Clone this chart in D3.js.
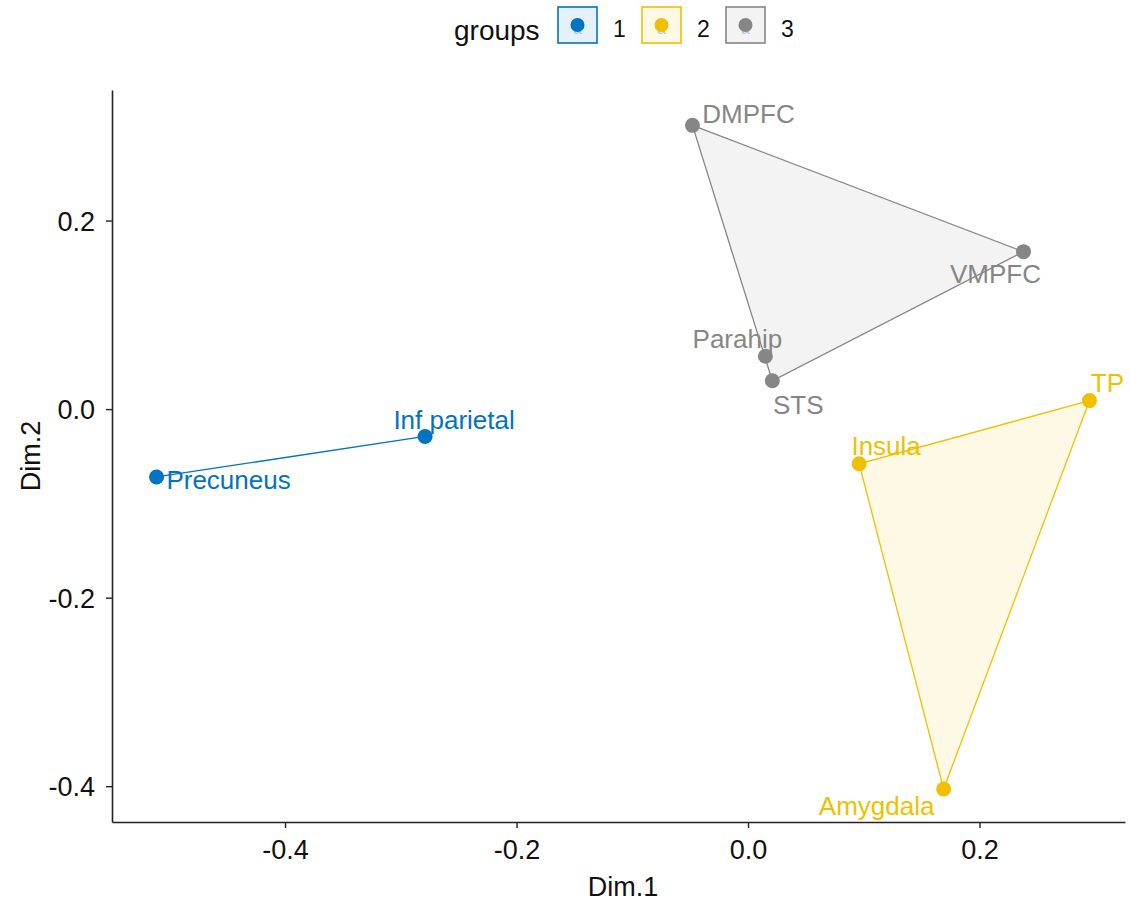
<!DOCTYPE html>
<html>
<head>
<meta charset="utf-8">
<script src="https://cdn.jsdelivr.net/npm/d3@7"></script>
<style>
  html, body { margin: 0; padding: 0; background: #fff; }
  svg { display: block; font-family: "Liberation Sans", Arial, sans-serif; }
</style>
</head>
<body>
<svg id="chart" width="1130" height="905"></svg>
<script>
// Regions on the first two MDS dimensions, grouped into three clusters
const regions = ["Precuneus", "Inf parietal", "DMPFC", "VMPFC", "Parahip", "STS", "TP", "Insula", "Amygdala"];
const dim1    = [-0.511, -0.279, -0.048, 0.238, 0.015, 0.021, 0.295, 0.096, 0.169];
const dim2    = [-0.072, -0.029, 0.301, 0.167, 0.056, 0.030, 0.009, -0.058, -0.403];
const groups  = [1, 1, 3, 3, 3, 3, 2, 2, 2];

const groupIds    = [1, 2, 3];
const groupColors = ["#0073C2", "#EFC000", "#868686"];

const xTicks = [-0.4, -0.2, 0.0, 0.2];
const yTicks = [-0.4, -0.2, 0.0, 0.2];

// Label placement (pixel offsets of each label centre from its point)
const labelOffsets = {
  "Precuneus":    [72, 3],
  "Inf parietal": [29, -17],
  "DMPFC":        [56, -12],
  "VMPFC":        [-28, 22],
  "Parahip":      [-28, -18],
  "STS":          [26, 24],
  "TP":           [18, -18],
  "Insula":       [27, -18],
  "Amygdala":     [-67, 17]
};

const svg = d3.select("#chart");
const margin = { left: 112, right: 1125, top: 90, bottom: 822 };

const x = d3.scaleLinear().domain([-0.5495, 0.3257]).range([margin.left, margin.right]);
const y = d3.scaleLinear().domain([-0.438, 0.3385]).range([margin.bottom, margin.top]);
const color = d3.scaleOrdinal().domain(groupIds).range(groupColors);

const pts = regions.map((name, i) => ({ name, x: dim1[i], y: dim2[i], g: groups[i] }));

// Convex hulls per cluster
const hullLayer = svg.append("g");
groupIds.forEach(g => {
  const members = pts.filter(p => p.g === g).map(p => [x(p.x), y(p.y)]);
  const poly = members.length >= 3 ? d3.polygonHull(members) : members;
  hullLayer.append("path")
    .attr("d", "M" + poly.map(p => p.join(",")).join("L") + "Z")
    .attr("fill", color(g))
    .attr("fill-opacity", members.length >= 3 ? 0.1 : 0)
    .attr("stroke", color(g))
    .attr("stroke-width", 1.3);
});

// Points
svg.append("g").selectAll("circle").data(pts).join("circle")
  .attr("cx", d => x(d.x)).attr("cy", d => y(d.y))
  .attr("r", 7.5)
  .attr("fill", d => color(d.g));

// Labels
svg.append("g").selectAll("text").data(pts).join("text")
  .attr("x", d => x(d.x) + labelOffsets[d.name][0])
  .attr("y", d => y(d.y) + labelOffsets[d.name][1])
  .attr("text-anchor", "middle")
  .attr("dy", "0.36em")
  .attr("font-size", 26)
  .attr("fill", d => color(d.g))
  .text(d => d.name);

// Axes
const fmt = d => d.toFixed(1);
const xAxis = svg.append("g")
  .attr("transform", `translate(0,${margin.bottom})`)
  .call(d3.axisBottom(x).tickValues(xTicks).tickFormat(fmt).tickSize(6).tickPadding(12).tickSizeOuter(0));
const yAxis = svg.append("g")
  .attr("transform", `translate(${margin.left},0)`)
  .call(d3.axisLeft(y).tickValues(yTicks).tickFormat(fmt).tickSize(6).tickPadding(11).tickSizeOuter(0));

[xAxis, yAxis].forEach(a => {
  a.select(".domain").attr("stroke", "#222").attr("stroke-width", 1.6);
  a.selectAll(".tick line").attr("stroke", "#222").attr("stroke-width", 1.4);
  a.selectAll(".tick text").attr("font-size", 27).attr("fill", "#111")
    .attr("font-family", "Liberation Sans, Arial, sans-serif");
});
yAxis.selectAll(".tick text").attr("dy", "0.36em");

svg.append("text")
  .attr("x", 623).attr("y", 896)
  .attr("text-anchor", "middle").attr("font-size", 27).attr("fill", "#111")
  .text("Dim.1");
svg.append("text")
  .attr("transform", `translate(30,${(margin.top + margin.bottom) / 2}) rotate(-90)`)
  .attr("text-anchor", "middle").attr("dy", "0.36em")
  .attr("font-size", 27).attr("fill", "#111")
  .text("Dim.2");

// Legend
const legend = svg.append("g");
legend.append("text")
  .attr("x", 454).attr("y", 30)
  .attr("dy", "0.36em")
  .attr("font-size", 28).attr("fill", "#111")
  .text("groups");
const keyX = [558, 642, 726];
groupIds.forEach((g, i) => {
  const k = legend.append("g").attr("transform", `translate(${keyX[i]},7)`);
  k.append("rect").attr("x", 0).attr("y", 0).attr("width", 39).attr("height", 36)
    .attr("fill", color(g)).attr("fill-opacity", 0.1)
    .attr("stroke", color(g)).attr("stroke-width", 1.6);
  k.append("text").attr("x", 19.5).attr("y", 27)
    .attr("text-anchor", "middle").attr("font-size", 16)
    .attr("fill", "#7aa6d6").attr("fill-opacity", 0.6).text("a");
  k.append("circle").attr("cx", 19.5).attr("cy", 18).attr("r", 7).attr("fill", color(g));
  legend.append("text")
    .attr("x", keyX[i] + 55).attr("y", 29)
    .attr("dy", "0.36em")
    .attr("font-size", 23).attr("fill", "#111")
    .text(g);
});
</script>
</body>
</html>
